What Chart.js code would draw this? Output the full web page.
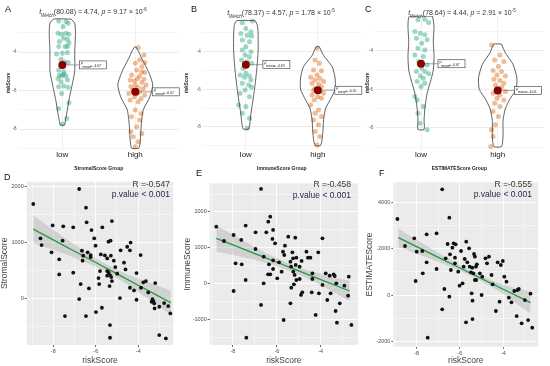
<!DOCTYPE html>
<html>
<head>
<meta charset="utf-8">
<script src="https://cdn.jsdelivr.net/npm/chart.js@4.4.0/dist/chart.umd.min.js"></script>
<style>
  body { margin: 0; background: #fff; font-family: "Liberation Sans", Arial, sans-serif; }
  #wrap { position: relative; width: 550px; height: 366px; overflow: hidden; }
  canvas { position: absolute; }
  .tag { position: absolute; font-size: 9px; line-height: 1; color: #111; }
  .ttl { position: absolute; font-size: 7px; line-height: 1; color: #333; white-space: nowrap; transform: translateX(-50%); }
  .ttl sub, .ttl sup { font-size: 4.6px; }
  .ann { position: absolute; font-size: 8.5px; line-height: 1; white-space: nowrap; text-align: right; }
</style>
</head>
<body>
<div id="wrap">
  <canvas id="cA" width="183" height="175" style="left:0;top:0"></canvas>
  <canvas id="cB" width="182" height="175" style="left:183px;top:0"></canvas>
  <canvas id="cC" width="185" height="175" style="left:365px;top:0"></canvas>
  <canvas id="cD" width="183" height="190" style="left:0;top:176px"></canvas>
  <canvas id="cE" width="182" height="190" style="left:183px;top:176px"></canvas>
  <canvas id="cF" width="185" height="190" style="left:365px;top:176px"></canvas>

  <div class="tag" style="left:5px;top:5px">A</div>
  <div class="tag" style="left:191px;top:5px">B</div>
  <div class="tag" style="left:365px;top:5px">C</div>
  <div class="tag" style="left:4px;top:173px">D</div>
  <div class="tag" style="left:196px;top:169px">E</div>
  <div class="tag" style="left:379px;top:169px">F</div>

  <div class="ttl" style="left:93px;top:8px"><i>t</i><sub><i>Welch</i></sub>(80.08) = 4.74, <i>p</i> = 9.17 × 10<sup>-6</sup></div>
  <div class="ttl" style="left:281px;top:9px"><i>t</i><sub><i>Welch</i></sub>(78.37) = 4.57, <i>p</i> = 1.78 × 10<sup>-5</sup></div>
  <div class="ttl" style="left:462px;top:9px"><i>t</i><sub><i>Welch</i></sub>(78.64) = 4.44, <i>p</i> = 2.91 × 10<sup>-5</sup></div>

  <div class="ann" style="right:380px;top:180px;color:#3a3a2a">R =-0.547</div>
  <div class="ann" style="right:380px;top:190px;color:#35204f">p.value &lt; 0.001</div>
  <div class="ann" style="right:199px;top:180px;color:#3a3a2a">R =-0.458</div>
  <div class="ann" style="right:199px;top:191px;color:#35204f">p.value &lt; 0.001</div>
  <div class="ann" style="right:18px;top:180px;color:#3a3a2a">R =-0.555</div>
  <div class="ann" style="right:18px;top:190px;color:#35204f">p.value &lt; 0.001</div>
</div>

<script>
const groups = ['low', 'high'];

// ---- violin panels: riskScore of each sample, with horizontal jitter ----
const aLowY  = [-2.39,-2.41,-2.51,-2.68,-3.03,-3.08,-3.03,-3.08,-3.29,-3.34,-3.46,-3.52,-3.72,-3.72,-3.72,-4.1,-4.07,-4.03,-4.38,-4.5,-4.55,-4.94,-5.02,-5.19,-5.16,-5.25,-5.25,-5.37,-5.45,-5.54,-5.8,-5.76,-5.83,-6.15,-6.63,-6.93,-7.45,-7.74];
const aLowJit = [-0.05,0.05,0.08,0.01,-0.06,-0.01,0.05,0.09,0.02,0.07,-0.04,0.09,-0.05,0.04,0.07,-0.08,0,0.07,-0.02,0.03,0.08,-0.05,0.02,-0.04,0.02,-0.01,0.05,-0.06,0.07,-0.02,-0.05,0.02,0.08,-0.01,0.09,-0.05,0.06,0];
const aHighY = [-3.76,-4.16,-4.42,-4.59,-4.55,-4.76,-4.94,-5.02,-5.07,-5.19,-5.25,-5.37,-5.42,-5.45,-5.51,-5.59,-5.71,-5.71,-5.8,-5.84,-5.89,-5.97,-6.06,-6.15,-6.15,-6.23,-6.32,-6.41,-6.49,-6.58,-7.01,-7.19,-7.36,-7.53,-7.88,-8.14,-8.23,-8.4,-8.66,-8.92];
const aHighJit = [0.04,0.12,0.06,0,0.13,0.09,0.02,0.09,0.13,-0.05,0.06,0.03,0.12,-0.07,-0.01,0.09,0,0.15,-0.06,0.04,0.11,-0.03,0.06,-0.09,0.03,0.13,-0.01,0.08,-0.07,0.04,0,0.08,-0.05,0.06,0.02,-0.06,0.09,-0.03,0.04,0];

const bLowY  = [-2.46,-2.37,-2.76,-2.94,-3.03,-3.12,-3.17,-3.38,-3.47,-3.73,-3.91,-4.0,-4.18,-4.27,-4.44,-4.53,-4.62,-4.88,-5.15,-5.24,-5.29,-5.36,-5.5,-5.68,-5.77,-5.89,-6.04,-6.21,-6.39,-6.83,-6.92,-7.27,-7.54,-8.07];
const bLowJit = [-0.05,0.09,0,0.07,-0.07,0.02,0.08,-0.05,0.05,0,-0.05,0.07,-0.01,0.05,-0.06,0.02,0.08,-0.04,0,-0.08,0.05,-0.02,0.07,-0.05,0.04,0.08,-0.01,-0.08,0.05,-0.1,0,-0.05,0.05,0.02];
const bHighY = [-3.82,-4.44,-4.62,-4.97,-5.01,-5.24,-5.36,-5.42,-5.5,-5.59,-5.68,-5.72,-5.86,-5.95,-6.07,-6.12,-6.21,-6.3,-6.39,-6.48,-6.57,-6.83,-7.1,-7.27,-7.45,-7.63,-7.89,-8.25,-8.51,-8.96];
const bHighJit = [-0.01,-0.04,0.02,-0.06,0.05,-0.01,-0.1,0.03,-0.04,0.08,-0.08,0.01,0.05,-0.04,-0.06,0.03,0.08,-0.08,0,0.05,-0.05,-0.1,0.01,-0.04,0.05,-0.06,0.01,-0.04,0.03,-0.01];

const cLowY  = [-2.39,-2.36,-2.53,-3.0,-3.08,-3.17,-3.34,-3.43,-3.6,-3.86,-3.95,-4.21,-4.29,-4.55,-4.73,-4.9,-5.07,-5.07,-5.19,-5.3,-5.42,-5.59,-5.68,-5.85,-6.37,-6.55,-6.89,-7.24,-7.76,-8.1];
const cLowJit = [-0.04,0.05,0.1,-0.08,-0.01,0.05,-0.06,0.08,0.01,-0.04,0.05,-0.08,0.03,-0.03,0.08,0.01,-0.06,0.05,0.1,-0.01,0.03,-0.05,0.05,0,-0.08,-0.05,0.03,-0.04,-0.01,0.08];
const cHighY = [-3.69,-4.21,-4.47,-4.55,-4.81,-5.02,-5.07,-5.25,-5.3,-5.47,-5.54,-5.68,-5.77,-5.89,-6.03,-6.11,-6.2,-6.29,-6.46,-6.55,-6.72,-6.89,-7.15,-7.41,-7.84,-8.1,-8.45,-8.97];
const cHighJit = [-0.08,0.03,-0.04,0.08,0.01,-0.06,0.05,-0.01,0.1,-0.05,0.03,0.08,-0.03,0.05,0.01,0.1,-0.06,0.03,-0.01,0.08,-0.04,0.03,-0.06,0.01,-0.03,-0.08,-0.06,-0.09];

// violin outlines: riskScore levels and half-widths (in category units)
const aLowShapeY  = [-2.29,-2.5,-3.0,-4.0,-5.0,-5.6,-6.5,-7.2,-7.6,-7.79];
const aLowShapeW  = [0.12,0.17,0.18,0.17,0.17,0.14,0.09,0.06,0.04,0.03];
const aHighShapeY = [-3.74,-4.0,-4.26,-4.7,-5.1,-5.7,-6.33,-7.0,-7.5,-7.9,-8.57,-8.99];
const aHighShapeW = [0.01,0.05,0.08,0.14,0.19,0.24,0.2,0.11,0.09,0.08,0.07,0.05];
const bLowShapeY  = [-2.35,-2.6,-3.0,-4.0,-5.0,-6.0,-6.8,-7.3,-8.1];
const bLowShapeW  = [0.13,0.16,0.17,0.17,0.15,0.12,0.09,0.07,0.04];
const bHighShapeY = [-3.73,-4.2,-4.8,-5.4,-6.0,-6.5,-7.0,-7.6,-8.3,-8.98];
const bHighShapeW = [0.02,0.08,0.2,0.24,0.24,0.18,0.11,0.08,0.07,0.04];
const cLowShapeY  = [-2.2,-2.7,-3.5,-4.3,-5.0,-5.5,-6.2,-7.0,-7.6,-8.08];
const cLowShapeW  = [0.15,0.17,0.16,0.17,0.16,0.13,0.08,0.05,0.04,0.04];
const cHighShapeY = [-3.65,-4.1,-4.7,-5.4,-6.0,-6.5,-7.0,-7.6,-8.4,-8.97];
const cHighShapeW = [0.05,0.1,0.2,0.25,0.24,0.16,0.1,0.07,0.07,0.05];

const meansA = [-4.67, -6.07];
const meansB = [-4.69, -6.05];
const meansC = [-4.67, -6.06];

// ---- scatter panels: riskScore vs score ----
const dX = [-8.94,-6.78,-6.46,-6.43,-8.60,-8.03,-7.53,-7.06,-6.20,-5.69,-5.24,-8.55,-8.08,-7.56,-7.72,-7.72,-6.65,-6.59,-6.38,-6.24,-6.24,-6.07,-6.01,-5.76,-5.57,-5.46,-5.40,-5.30,-5.29,-5.15,-4.83,-4.52,-4.36,-4.39,-3.89,-4.67,-4.60,-5.08,-4.99,-5.80,-5.46,-5.40,-5.27,-5.24,-5.35,-5.84,-5.87,-5.46,-5.33,-4.08,-3.76,-3.64,-3.87,-4.20,-4.08,-4.39,-3.20,-3.53,-3.37,-3.29,-3.25,-3.33,-3.23,-3.01,-2.78,-2.59,-2.49,-3.01,-2.70,-5.33,-5.33,-5.71,-5.99,-6.62,-7.06,-6.71,-6.32,-6.78,-6.46,-7.45,-4.86];
const dY = [1690,1958,1624,1361,1075,1307,1290,1272,1224,1272,1385,955,824,1033,699,430,854,764,824,776,740,1075,943,788,770,716,1015,1033,764,675,860,925,1000,860,776,639,519,561,442,490,490,466,382,310,221,257,364,406,418,454,287,310,191,143,-24,191,275,107,-60,-48,-90,-12,-179,-149,-84,-137,-269,-657,-716,-478,-704,-167,-245,675,460,257,179,-12,-316,-316,6];

const eX = [-8.76,-8.41,-7.97,-7.88,-7.97,-7.60,-7.62,-7.42,-7.42,-7.39,-6.97,-6.97,-6.72,-6.72,-6.60,-6.60,-6.48,-6.39,-6.36,-6.30,-6.40,-6.30,-6.17,-6.20,-6.08,-6.17,-6.17,-5.90,-5.98,-5.78,-5.72,-5.63,-5.66,-5.69,-5.48,-5.38,-5.38,-5.35,-5.34,-5.29,-5.25,-5.22,-5.26,-5.19,-5.16,-5.14,-5.11,-5.11,-4.96,-4.96,-4.90,-4.87,-4.84,-4.65,-4.58,-4.47,-4.38,-4.38,-4.41,-4.23,-4.11,-4.08,-3.92,-3.92,-3.77,-3.70,-3.59,-3.55,-3.41,-3.36,-3.29,-3.32,-3.26,-3.13,-2.92,-2.75,-2.72,-2.60];
const eY = [1590,1190,1358,567,-205,540,1219,1619,102,-1507,1433,967,2642,-595,753,9,1433,1730,540,1870,260,260,1498,1247,1126,651,409,595,149,335,893,1060,800,-1014,1312,614,-549,474,-112,874,335,-19,707,242,1284,521,102,726,474,130,-316,633,-242,893,726,726,288,130,-242,-874,874,-270,1265,-37,288,-456,223,-270,260,214,9,-763,-1088,-549,-56,-335,195,-1153];

const fX = [-8.89,-8.54,-8.11,-8.05,-8.00,-7.74,-7.72,-7.54,-7.54,-7.49,-7.08,-7.08,-6.82,-6.82,-6.72,-6.66,-6.57,-6.49,-6.49,-6.46,-6.42,-6.35,-6.29,-6.23,-6.20,-6.23,-6.08,-6.02,-5.95,-5.88,-5.83,-5.78,-5.72,-5.71,-5.66,-5.58,-5.55,-5.49,-5.46,-5.43,-5.42,-5.42,-5.38,-5.35,-5.31,-5.31,-5.26,-5.25,-5.22,-5.08,-5.00,-4.97,-4.82,-4.75,-4.66,-4.54,-4.49,-4.34,-4.26,-4.17,-4.11,-4.02,-3.95,-3.85,-3.74,-3.62,-3.38,-3.49,-3.34,-3.28,-3.15,-3.00,-2.85,-2.74,-2.66];
const fY = [3292,2123,2455,606,1877,1906,939,1415,2628,-1848,2671,1126,4577,-621,260,1588,2209,-72,3350,1762,1083,2051,2238,1617,2195,1372,1011,404,1906,505,1227,1560,-1184,2311,1415,2022,1227,982,72,1184,-245,-1040,939,1776,650,1661,1227,650,1329,939,0,794,1588,1372,1661,866,462,-693,1415,-289,1300,1473,794,577,-116,-318,-910,173,217,260,-1227,-217,-1083,58,-1415];

// fitted line and confidence band, read at a few riskScore positions
const dFitX = [-8.94,-8,-7,-6,-5,-4,-3,-2.46];
const dFit  = [1240,1049,845,642,439,235,32,-78];
const dUp   = [1488,1229,965,717,514,355,217,132];
const dLo   = [992,869,725,567,364,115,-153,-288];
const eFitX = [-8.76,-8,-7,-6,-5,-4,-3,-2.68];
const eFit  = [1265,1081,839,597,355,114,-128,-205];
const eUp   = [1637,1361,1019,707,455,274,122,75];
const eLo   = [893,801,659,487,255,-46,-378,-485];
const fFitX = [-8.85,-8,-7,-6,-5,-4,-3,-2.74];
const fFit  = [2484,2092,1631,1170,710,249,-212,-332];
const fUp   = [2884,2392,1831,1300,830,449,208,144];
const fLo   = [2084,1792,1431,1040,590,49,-632,-808];

const FONT = 'Liberation Sans';
const pts = (xs, ys) => xs.map((x, i) => ({ x, y: ys[i] }));

function stepTicks(step) {
  return s => {
    const t = [];
    for (let v = Math.ceil(s.min / step) * step; v <= s.max + 1e-9; v += step) t.push({ value: +v.toFixed(6) });
    s.ticks = t;
  };
}

function outline(center, ys, ws) {
  const right = ys.map((y, i) => ({ x: center + ws[i], y }));
  const left = ys.map((y, i) => ({ x: center - ws[i], y })).reverse();
  return [...right, ...left, right[0]];
}

const meanLabel = {
  id: 'meanLabel',
  afterDatasetsDraw(chart, args, opts) {
    const { ctx, scales: { x, y } } = chart;
    opts.means.forEach((m, i) => {
      const px = x.getPixelForValue(i + 1), py = y.getPixelForValue(m);
      const bx = px + 17, bw = 27, bh = 8;
      ctx.save();
      ctx.strokeStyle = '#666'; ctx.lineWidth = 0.6;
      ctx.beginPath(); ctx.moveTo(px + 4, py); ctx.lineTo(bx, py); ctx.stroke();
      ctx.fillStyle = '#fff';
      ctx.fillRect(bx, py - bh / 2, bw, bh);
      ctx.strokeStyle = '#333';
      ctx.strokeRect(bx, py - bh / 2, bw, bh);
      ctx.fillStyle = '#222';
      ctx.font = `3.4px "${FONT}"`;
      ctx.fillText('μ̂', bx + 1.5, py - 0.8);
      ctx.fillText('mean', bx + 3.2, py + 2.8);
      ctx.fillText('= ' + m.toFixed(2), bx + 11, py + 2);
      ctx.restore();
    });
  }
};

function violin(id, o) {
  new Chart(document.getElementById(id), {
    type: 'scatter',
    data: {
      datasets: [
        { data: pts(o.lowY.map((_, i) => 1 + (o.lowJit[i] || 0)), o.lowY), backgroundColor: 'rgba(27,158,119,0.42)', pointRadius: 2.5, borderWidth: 0, order: 3 },
        { data: pts(o.highY.map((_, i) => 2 + (o.highJit[i] || 0)), o.highY), backgroundColor: 'rgba(217,95,2,0.42)', pointRadius: 2.5, borderWidth: 0, order: 3 },
        { data: outline(1, o.lowShapeY, o.lowShapeW), showLine: true, borderColor: '#3a3a3a', borderWidth: 0.8, pointRadius: 0, tension: 0.2, fill: false, order: 2 },
        { data: outline(2, o.highShapeY, o.highShapeW), showLine: true, borderColor: '#3a3a3a', borderWidth: 0.8, pointRadius: 0, tension: 0.2, fill: false, order: 2 },
        { data: pts([1, 2], o.means), backgroundColor: '#8b0000', pointRadius: 4, borderWidth: 0, order: 1 },
      ],
    },
    options: {
      responsive: false, animation: false, devicePixelRatio: 1,
      layout: { padding: { top: 16, right: o.padRight, left: 0, bottom: 0 } },
      plugins: { legend: { display: false }, tooltip: { enabled: false }, meanLabel: { means: o.means } },
      scales: {
        x: {
          type: 'linear', min: 0.4, max: 2.6,
          afterBuildTicks: s => { s.ticks = [{ value: 1 }, { value: 2 }]; },
          afterFit: s => { s.height = 25; },
          ticks: { callback: v => groups[v - 1], color: '#222', font: { family: FONT, size: 8 }, padding: 0, maxRotation: 0 },
          grid: { color: '#ececec', lineWidth: 0.8, drawTicks: false },
          border: { display: false },
          title: { display: true, text: o.xTitle, color: '#222', font: { family: FONT, size: 5, weight: 'bold' }, padding: { top: 0, bottom: 3 } },
        },
        y: {
          min: o.yMin, max: o.yMax,
          afterBuildTicks: stepTicks(1),
          afterFit: s => { s.width = o.yWidth; },
          ticks: { callback: v => (v % 2 === 0 ? String(v) : ''), color: '#555', font: { family: FONT, size: 4.5 }, padding: 2 },
          grid: { color: c => (c.tick.value % 2 === 0 ? '#e6e6e6' : '#f2f2f2'), lineWidth: 0.8, drawTicks: false },
          border: { display: false },
          title: { display: true, text: 'riskScore', color: '#222', font: { family: FONT, size: 4.5, weight: 'bold' }, padding: { top: o.titlePad, bottom: 0 } },
        },
      },
    },
    plugins: [meanLabel],
  });
}

const panelBg = {
  id: 'panelBg',
  beforeDraw(chart) {
    const { ctx, chartArea: a } = chart;
    ctx.save();
    ctx.fillStyle = '#ebebeb';
    ctx.fillRect(a.left, a.top, a.width, a.height);
    ctx.restore();
  }
};

function scatter(id, o) {
  const major = (v, step) => Math.abs(v / step - Math.round(v / step)) < 1e-6;
  new Chart(document.getElementById(id), {
    type: 'scatter',
    data: {
      datasets: [
        { data: pts(o.xs, o.ys), backgroundColor: '#111', pointRadius: 1.9, borderWidth: 0, order: 1 },
        { data: pts(o.fitX, o.fit), showLine: true, borderColor: '#1f9a3c', borderWidth: 1.3, pointRadius: 0, fill: false, order: 2 },
        { data: pts(o.fitX, o.up), showLine: true, borderWidth: 0, pointRadius: 0, tension: 0.3, fill: '+1', backgroundColor: 'rgba(150,150,150,0.3)', order: 3 },
        { data: pts(o.fitX, o.lo), showLine: true, borderWidth: 0, pointRadius: 0, tension: 0.3, fill: false, order: 4 },
      ],
    },
    options: {
      responsive: false, animation: false, devicePixelRatio: 1,
      layout: { padding: { top: o.padTop, right: o.padRight, left: 0, bottom: 0 } },
      plugins: { legend: { display: false }, tooltip: { enabled: false } },
      scales: {
        x: {
          min: o.xMin, max: o.xMax,
          afterBuildTicks: stepTicks(1),
          afterFit: s => { s.height = o.xHeight; },
          ticks: { callback: v => (major(v, 2) ? String(v) : ''), color: '#4d4d4d', font: { family: FONT, size: 5.5 }, padding: 1, maxRotation: 0, autoSkip: false },
          grid: { color: '#fff', lineWidth: c => (major(c.tick.value, 2) ? 0.9 : 0.45), tickLength: 2,
                  tickColor: c => (major(c.tick.value, 2) ? '#555' : 'rgba(0,0,0,0)') },
          border: { display: false },
          title: { display: true, text: 'riskScore', color: '#444', font: { family: FONT, size: 8.5 }, padding: { top: 0, bottom: 0 } },
        },
        y: {
          min: o.yMin, max: o.yMax,
          afterBuildTicks: stepTicks(o.yStep / 2),
          afterFit: s => { s.width = o.yWidth; },
          ticks: { callback: v => (major(v, o.yStep) ? String(v) : ''), color: '#4d4d4d', font: { family: FONT, size: 5.5 }, padding: 1, autoSkip: false },
          grid: { color: '#fff', lineWidth: c => (major(c.tick.value, o.yStep) ? 0.9 : 0.45), tickLength: 2,
                  tickColor: c => (major(c.tick.value, o.yStep) ? '#555' : 'rgba(0,0,0,0)') },
          border: { display: false },
          title: { display: true, text: o.yTitle, color: '#444', font: { family: FONT, size: 8.5 }, padding: { top: 0, bottom: 0 } },
        },
      },
    },
    plugins: [panelBg],
  });
}

violin('cA', { lowY: aLowY, lowJit: aLowJit, highY: aHighY, highJit: aHighJit,
  lowShapeY: aLowShapeY, lowShapeW: aLowShapeW, highShapeY: aHighShapeY, highShapeW: aHighShapeW,
  means: meansA, yMin: -9.09, yMax: -2.13, yWidth: 18.6, padRight: 1.6, titlePad: 6, xTitle: 'StromalScore Group' });
violin('cB', { lowY: bLowY, lowJit: bLowJit, highY: bHighY, highJit: bHighJit,
  lowShapeY: bLowShapeY, lowShapeW: bLowShapeW, highShapeY: bHighShapeY, highShapeW: bHighShapeW,
  means: meansB, yMin: -9.23, yMax: -2.1, yWidth: 19.7, padRight: 2.4, titlePad: 1, xTitle: 'ImmuneScore Group' });
violin('cC', { lowY: cLowY, lowJit: cLowJit, highY: cHighY, highJit: cHighJit,
  lowShapeY: cLowShapeY, lowShapeW: cLowShapeW, highShapeY: cHighShapeY, highShapeW: cHighShapeW,
  means: meansC, yMin: -9.15, yMax: -2.19, yWidth: 10, padRight: 6.3, titlePad: 0, xTitle: 'ESTIMATEScore Group' });

scatter('cD', { xs: dX, ys: dY, fitX: dFitX, fit: dFit, up: dUp, lo: dLo, yTitle: 'StromalScore',
  xMin: -9.25, xMax: -2.35, yMin: -834, yMax: 2089, yStep: 1000, yWidth: 26.7, xHeight: 21, padTop: 5.7, padRight: 9.7 });
scatter('cE', { xs: eX, ys: eY, fitX: eFitX, fit: eFit, up: eUp, lo: eLo, yTitle: 'ImmuneScore',
  xMin: -9.06, xMax: -2.3, yMin: -1712, yMax: 2800, yStep: 1000, yWidth: 26.7, xHeight: 21, padTop: 7.3, padRight: 7 });
scatter('cF', { xs: fX, ys: fY, fitX: fFitX, fit: fFit, up: fUp, lo: fLo, yTitle: 'ESTIMATEScore',
  xMin: -9.08, xMax: -2.38, yMin: -2238, yMax: 4881, yStep: 2000, yWidth: 28.3, xHeight: 19.3, padTop: 6.3, padRight: 11.7 });
</script>
</body>
</html>
